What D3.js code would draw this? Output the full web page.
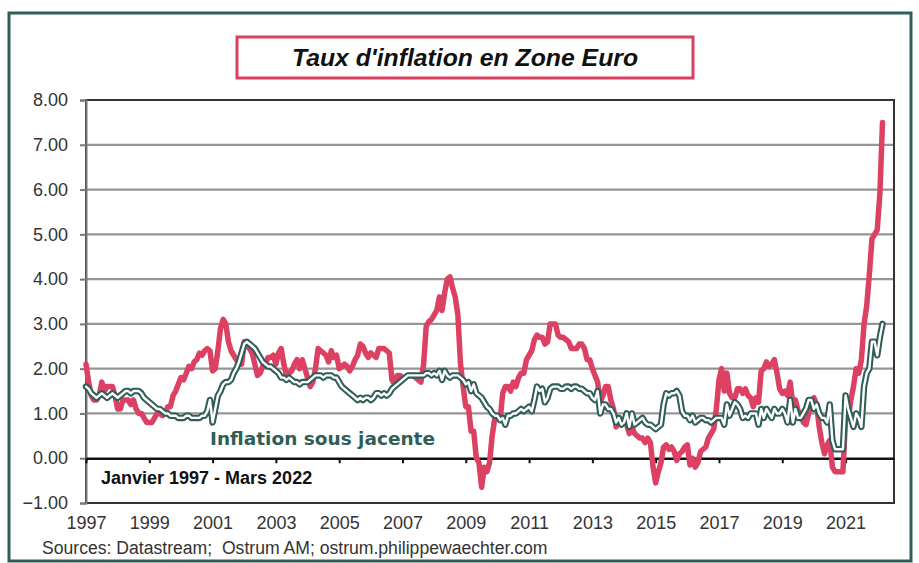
<!DOCTYPE html>
<html><head><meta charset="utf-8">
<script src="https://cdn.jsdelivr.net/npm/d3@7"></script>
<style>body{margin:0;background:#fff}svg{display:block}</style>
</head><body>
<svg id="c" width="919" height="563"></svg>
<script>
const startYear = 1997;
const titleText = "Taux d'inflation en Zone Euro";
const periodText = "Janvier 1997 - Mars 2022";
const coreLabel = "Inflation sous jacente";
const sourceText = "Sources: Datastream;  Ostrum AM; ostrum.philippewaechter.com";
const yTicks = [-1, 0, 1, 2, 3, 4, 5, 6, 7, 8];
const xTicks = [1997, 1999, 2001, 2003, 2005, 2007, 2009, 2011, 2013, 2015, 2017, 2019, 2021];

// Headline HICP, monthly from Jan 1997 to Mar 2022
const headline = [
 2.1,1.7,1.4,1.3,1.3,1.4,1.7,1.5,1.6,1.6,1.6,1.4,
 1.1,1.1,1.3,1.3,1.3,1.2,1.3,1.1,1.0,1.0,0.9,0.8,
 0.8,0.8,0.9,1.0,1.0,0.95,1.0,1.15,1.15,1.4,1.5,1.65,
 1.8,1.75,1.9,2.05,2.0,2.15,2.2,2.35,2.3,2.4,2.45,2.4,
 1.95,2.0,2.4,2.9,3.1,3.0,2.6,2.4,2.3,2.2,2.1,2.1,
 2.6,2.5,2.45,2.35,2.1,1.85,1.9,2.05,2.1,2.25,2.25,2.3,
 2.1,2.35,2.45,2.1,1.85,1.9,1.95,2.1,2.2,2.0,2.2,2.0,
 1.8,1.6,1.7,2.0,2.45,2.4,2.35,2.3,2.15,2.4,2.25,2.3,
 2.0,2.05,2.1,2.05,1.95,2.05,2.2,2.3,2.55,2.5,2.35,2.25,
 2.35,2.3,2.25,2.45,2.45,2.45,2.4,2.35,1.75,1.65,1.85,1.85,
 1.8,1.8,1.85,1.85,1.85,1.8,1.75,1.7,2.1,2.95,3.05,3.1,
 3.2,3.3,3.6,3.3,3.7,4.0,4.05,3.8,3.6,3.2,2.1,1.6,
 1.15,1.15,0.6,0.6,0.0,-0.1,-0.65,-0.2,-0.3,-0.1,0.5,0.9,
 0.95,0.85,1.45,1.6,1.6,1.5,1.7,1.6,1.8,1.9,1.9,2.2,
 2.3,2.4,2.65,2.75,2.7,2.7,2.55,2.6,3.0,3.0,3.0,2.75,
 2.7,2.7,2.65,2.6,2.45,2.45,2.45,2.55,2.55,2.45,2.2,2.2,
 2.0,1.85,1.7,1.25,1.4,1.6,1.6,1.3,1.1,0.7,0.9,0.85,
 0.8,0.75,0.55,0.7,0.55,0.5,0.45,0.45,0.35,0.45,0.35,-0.2,
 -0.55,-0.3,-0.1,0.25,0.3,0.2,0.25,0.15,-0.05,0.1,0.15,0.25,
 0.3,-0.15,0.0,-0.2,-0.1,0.15,0.2,0.25,0.45,0.55,0.65,1.1,
 1.75,2.0,1.5,1.9,1.45,1.35,1.35,1.55,1.55,1.45,1.55,1.4,
 1.35,1.15,1.35,1.25,1.95,2.0,2.15,2.05,2.1,2.2,1.9,1.55,
 1.45,1.5,1.4,1.7,1.2,1.3,1.05,1.0,0.8,0.75,1.0,1.3,
 1.35,1.2,0.7,0.35,0.1,0.3,0.4,-0.2,-0.3,-0.3,-0.3,-0.3,
 0.9,0.9,1.3,1.6,2.0,1.9,2.2,3.0,3.4,4.1,4.9,5.0,
 5.1,5.9,7.5
];

// Core inflation ("inflation sous jacente"), monthly from Jan 1997 to Mar 2022
const core = [
 1.6,1.55,1.45,1.4,1.35,1.4,1.45,1.4,1.35,1.4,1.45,1.4,
 1.35,1.4,1.45,1.5,1.5,1.45,1.5,1.5,1.5,1.45,1.35,1.3,
 1.25,1.2,1.15,1.1,1.1,1.05,1.0,1.0,0.95,0.95,0.95,0.9,
 0.9,0.9,0.95,0.95,0.9,0.9,0.9,0.9,0.95,0.95,1.05,1.3,
 0.8,1.1,1.4,1.5,1.65,1.7,1.7,1.75,1.9,2.0,2.15,2.35,
 2.55,2.6,2.55,2.5,2.45,2.35,2.25,2.15,2.1,2.05,2.05,2.0,
 1.95,1.9,1.8,1.8,1.75,1.8,1.75,1.7,1.7,1.65,1.7,1.7,
 1.7,1.75,1.8,1.85,1.85,1.85,1.8,1.85,1.85,1.85,1.8,1.8,
 1.7,1.6,1.55,1.5,1.45,1.4,1.35,1.3,1.35,1.3,1.35,1.35,
 1.3,1.35,1.45,1.45,1.4,1.45,1.4,1.45,1.55,1.6,1.65,1.7,
 1.75,1.8,1.85,1.85,1.85,1.85,1.85,1.85,1.85,1.9,1.9,1.85,
 1.9,1.85,1.95,1.75,1.95,1.85,1.8,1.85,1.85,1.85,1.8,1.75,
 1.65,1.7,1.5,1.65,1.45,1.4,1.35,1.25,1.15,1.1,1.0,0.95,
 0.95,0.85,0.9,0.75,0.95,0.95,1.0,1.0,1.05,1.1,1.05,1.1,
 1.15,1.05,1.3,1.6,1.5,1.55,1.25,1.35,1.55,1.6,1.6,1.6,
 1.55,1.55,1.6,1.6,1.55,1.6,1.6,1.55,1.55,1.5,1.45,1.45,
 1.35,1.3,1.5,1.0,1.2,1.2,1.1,1.1,1.0,0.8,0.9,0.75,
 0.8,1.0,0.7,1.0,0.75,0.8,0.85,0.9,0.8,0.75,0.75,0.7,
 0.65,0.7,0.75,1.2,1.45,1.4,1.45,1.45,1.5,1.4,1.05,0.95,
 0.95,0.85,0.95,0.8,0.85,0.9,0.9,0.85,0.85,0.8,0.85,0.9,
 0.9,0.9,0.75,1.2,0.95,1.1,1.25,1.2,1.1,0.9,0.95,0.9,
 1.0,1.0,1.0,0.75,1.1,0.9,1.1,1.0,0.9,1.1,1.0,1.0,
 1.1,1.0,0.8,1.3,0.8,1.1,0.9,0.9,1.0,1.1,1.3,1.3,
 1.1,1.2,1.0,0.9,0.9,0.8,1.2,0.4,0.2,0.2,0.2,0.2,
 1.4,1.1,0.9,0.7,1.0,0.9,0.7,1.6,1.9,2.0,2.6,2.6,
 2.3,2.7,3.0
];

const svg = d3.select("#c");
const L = 86, R = 894, T = 100, B = 503;
const x = d3.scaleLinear().domain([startYear, 2022.53]).range([L, R]);
const y = d3.scaleLinear().domain([-1, 8]).range([B, T]);

// outer frame
svg.append("rect").attr("x", 9).attr("y", 13).attr("width", 902).attr("height", 548)
  .attr("fill", "#fff").attr("stroke", "#2e5e5a").attr("stroke-width", 3);

// title box
svg.append("rect").attr("x", 237).attr("y", 37).attr("width", 456).attr("height", 41)
  .attr("fill", "#fff").attr("stroke", "#d9415f").attr("stroke-width", 3);
svg.append("text").attr("x", 465).attr("y", 66).attr("text-anchor", "middle")
  .attr("font-family", "'Liberation Sans Narrow','Arial Narrow','Liberation Sans',Arial,sans-serif")
  .attr("font-weight", "bold").attr("font-style", "italic").attr("font-size", 24)
  .attr("textLength", 346).attr("lengthAdjust", "spacingAndGlyphs")
  .attr("fill", "#111").text(titleText);

// gridlines
svg.append("g").selectAll("line").data(yTicks.filter(v => v !== 0 && v !== 8 && v !== -1)).join("line")
  .attr("x1", L).attr("x2", R).attr("y1", d => y(d)).attr("y2", d => y(d))
  .attr("stroke", "#959595").attr("stroke-width", 2.2);

// plot frame
svg.append("rect").attr("x", L).attr("y", T).attr("width", R - L).attr("height", B - T)
  .attr("fill", "none").attr("stroke", "#333").attr("stroke-width", 2);

// y axis
const yAxis = d3.axisLeft(y).tickValues(yTicks).tickFormat(d3.format(".2f")).tickSize(6).tickPadding(12);
const gy = svg.append("g").attr("transform", `translate(${L},0)`).call(yAxis);
gy.select(".domain").attr("stroke", "#777").attr("stroke-width", 2);
gy.selectAll(".tick line").attr("stroke", "#777").attr("stroke-width", 2);
gy.selectAll(".tick text").attr("font-family", "'Liberation Sans',Arial,sans-serif")
  .attr("font-size", 18).attr("fill", "#333");

// zero line with ticks
const gx = svg.append("g").attr("transform", `translate(0,${y(0)})`)
  .call(d3.axisBottom(x).tickValues(xTicks).tickFormat("").tickSize(5).tickSizeOuter(0));
gx.select(".domain").attr("stroke", "#111").attr("stroke-width", 2.5);
gx.selectAll(".tick line").attr("stroke", "#111").attr("stroke-width", 2);

// x labels below plot
const gxl = svg.append("g").attr("transform", `translate(0,${B})`)
  .call(d3.axisBottom(x).tickValues(xTicks).tickFormat(d3.format("d")).tickSize(0).tickPadding(13));
gxl.select(".domain").remove();
gxl.selectAll(".tick text").attr("font-family", "'Liberation Sans',Arial,sans-serif")
  .attr("font-size", 18).attr("fill", "#333");

// lines
const toPts = arr => arr.map((v, i) => [startYear + i / 12, v]);
const line = d3.line().x(d => x(d[0])).y(d => y(d[1]));

svg.append("path").datum(toPts(headline)).attr("d", line)
  .attr("fill", "none").attr("stroke", "#dc4163").attr("stroke-width", 5.5)
  .attr("stroke-linejoin", "round").attr("stroke-linecap", "round");

svg.append("path").datum(toPts(core)).attr("d", line)
  .attr("fill", "none").attr("stroke", "#2f5e59").attr("stroke-width", 6.5)
  .attr("stroke-linejoin", "round").attr("stroke-linecap", "round");
svg.append("path").datum(toPts(core)).attr("d", line)
  .attr("fill", "none").attr("stroke", "#fff").attr("stroke-width", 2.4)
  .attr("stroke-linejoin", "round").attr("stroke-linecap", "round");

// annotations
svg.append("text").attr("x", 210).attr("y", 445)
  .attr("font-family", "'DejaVu Sans',Verdana,sans-serif").attr("font-weight", "bold")
  .attr("font-size", 18.5).attr("fill", "#2f5e59").text(coreLabel);

svg.append("text").attr("x", 101).attr("y", 484)
  .attr("font-family", "'Liberation Sans',Arial,sans-serif").attr("font-weight", "bold")
  .attr("font-size", 18).attr("fill", "#111").text(periodText);

svg.append("text").attr("x", 42).attr("y", 554)
  .style("white-space", "pre")
  .attr("font-family", "'Liberation Sans',Arial,sans-serif")
  .attr("font-size", 17.6).attr("fill", "#333").text(sourceText);
</script>
</body></html>
